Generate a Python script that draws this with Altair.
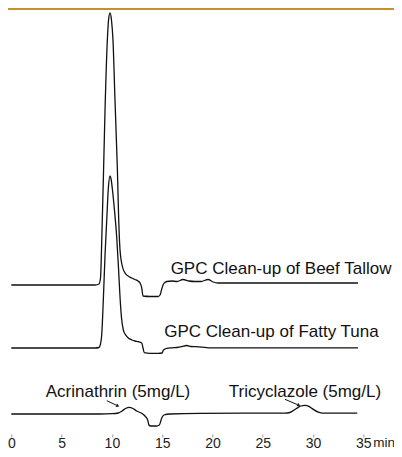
import altair as alt
import pandas as pd

# ---- data (minutes, relative detector signal) ----
TIME_BEEF = [0, 8.32, 8.72, 8.87, 9.02, 9.15, 9.32, 9.55, 9.67, 9.82, 9.96, 10.11, 10.31, 10.55, 10.68,
             10.81, 11.01, 11.31, 11.61, 11.97, 12.30, 12.60, 12.80, 12.97, 13.10, 13.79, 14.59, 14.79,
             14.99, 15.13, 15.45, 15.98, 16.48, 17.07, 17.67, 18.27, 18.87, 19.56, 20.06, 20.55, 34.47]
SIG_BEEF = [0, 0, 1, 7, 55, 105, 175, 245, 265, 272, 265, 245, 185, 115, 65,
            35, 20, 12, 9, 7, 5.5, 4, 2, -3, -11, -11.5, -11.5, -10,
            -3, 1, 3.5, 4, 3.5, 5.5, 4, 3.5, 3.5, 5.5, 3, 2, 2]

TIME_TUNA = [0, 8.32, 8.72, 8.87, 8.99, 9.15, 9.32, 9.49, 9.65, 9.82, 9.92, 10.06, 10.21, 10.48, 10.66,
             10.81, 10.96, 11.14, 11.31, 11.63, 12.00, 12.30, 12.60, 12.97, 13.10, 13.22, 13.79, 14.59,
             14.99, 15.13, 15.45, 15.98, 16.48, 16.94, 17.44, 17.87, 18.27, 18.96, 19.59, 34.47]
SIG_TUNA = [0, 0, 0.5, 4, 13, 48, 93, 128, 160, 172, 169, 158, 143, 111, 80,
            51, 30, 18, 14, 10, 8, 7, 6.3, 5, 0, -4.7, -5.3, -5.3,
            -5, -2, -0.3, 0.2, 0.5, 1.3, 2.5, 1.5, 1.3, 0.8, 0.2, 0.2]

TIME_STD = [0, 8.82, 10.01, 10.64, 11.01, 11.36, 11.73, 12.10, 12.47, 12.97, 13.29, 13.56, 13.69, 13.84,
            14.46, 14.72, 14.95, 15.18, 15.78, 18.76, 27.21, 27.70, 28.38, 28.80, 29.20, 29.60, 29.87,
            30.53, 30.98, 34.40]
SIG_STD = [0, 0, 0.3, 1, 3, 5.5, 6.7, 5.5, 3, 0.7, -2, -6, -11, -12,
           -12, -11, -4.3, -1, 0, 0.7, 0.9, 1.5, 5.7, 8, 8.7, 7.7, 5.7,
           1.8, 0.8, 0.8]

SERIES = ["Beef Tallow", "Fatty Tuna", "Standard"]
OFFSETS = [151, 88, 22]          # vertical stacking of the traces

LABELS = ["GPC Clean-up of Beef Tallow", "GPC Clean-up of Fatty Tuna",
          "Acrinathrin (5mg/L)", "Tricyclazole (5mg/L)"]
LABEL_T = [26.82, 25.87, 10.61, 29.20]
LABEL_V = [162, 99.3, 39.3, 39.5]

ARROW_T1 = [9.49, 27.21]
ARROW_V1 = [35.3, 36.7]
ARROW_T2 = [10.45, 28.42]
ARROW_V2 = [30.8, 31.5]
HEAD_T = [10.54, 28.54]
HEAD_V = [30.3, 31.0]

TICKS = [0, 5, 10, 15, 20, 25, 30, 35]
UNIT_LABEL = "min"

# ---- build tables ----
rows = []
for name, off, ts, vs in zip(SERIES, OFFSETS, [TIME_BEEF, TIME_TUNA, TIME_STD],
                             [SIG_BEEF, SIG_TUNA, SIG_STD]):
    for t, v in zip(ts, vs):
        rows.append({"series": name, "t": t, "y": v + off})
df = pd.DataFrame(rows)

lab = pd.DataFrame({"t": LABEL_T, "y": LABEL_V, "text": LABELS})
arr = pd.DataFrame({"t": ARROW_T1, "y": ARROW_V1, "t2": ARROW_T2, "y2": ARROW_V2})
heads = pd.DataFrame({"t": HEAD_T, "y": HEAD_V})
unit = pd.DataFrame({"t": [36.0], "y": [-11], "text": [UNIT_LABEL]})

FONT = "Liberation Sans"
xscale = alt.Scale(domain=[0, 35], nice=False, zero=False)
yscale = alt.Scale(domain=[2, 428], nice=False, zero=False)

lines = alt.Chart(df).mark_line(interpolate="monotone", color="#111111", strokeWidth=1.3).encode(
    x=alt.X("t:Q", scale=xscale,
            axis=alt.Axis(values=TICKS, title=None, grid=False, domain=False,
                          tickSize=3, tickColor="#999999", tickWidth=1,
                          labelFont=FONT, labelFontSize=14, labelColor="#222222",
                          labelBaseline="alphabetic", labelPadding=10,
                          labelFlush=False, labelOverlap=False)),
    y=alt.Y("y:Q", scale=yscale, axis=None),
    detail="series:N",
    order="t:Q",
)

texts = alt.Chart(lab).mark_text(font=FONT, fontSize=17, color="#111111",
                                 align="center", baseline="alphabetic").encode(
    x="t:Q", y="y:Q", text="text:N")

arrows = alt.Chart(arr).mark_rule(color="#111111", strokeWidth=1).encode(
    x="t:Q", y="y:Q", x2="t2:Q", y2="y2:Q")

arrowheads = alt.Chart(heads).mark_point(shape="triangle", filled=True, size=14,
                                         color="#111111", angle=115, opacity=1).encode(
    x="t:Q", y="y:Q")

unit_text = alt.Chart(unit).mark_text(font=FONT, fontSize=13.5, color="#222222",
                                      align="left", baseline="alphabetic").encode(
    x="t:Q", y="y:Q", text="text:N")

gold = alt.Chart(unit).mark_rule(color="#C8902C", strokeWidth=2).encode(
    x=alt.value(-3.3), x2=alt.value(382.7), y=alt.value(1))

chart = alt.layer(gold, lines, arrows, arrowheads, texts, unit_text).properties(
    width=352, height=426,
    autosize=alt.AutoSizeParams(type="none"),
    padding={"left": 3.3, "top": 0, "right": 30.7, "bottom": 15},
).configure_view(stroke=None)

chart.save("out.html", embed_options={"renderer": "svg", "actions": False})
